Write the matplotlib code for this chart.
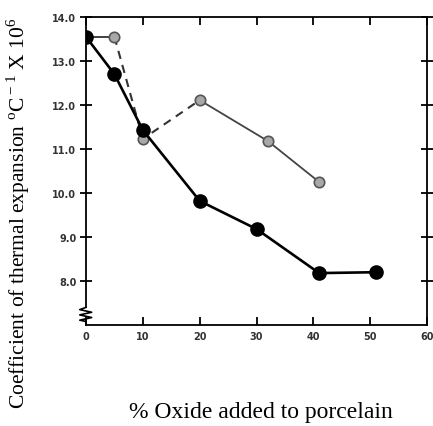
import matplotlib.pyplot as plt
import numpy as np

# black series (filled circles)
oxide_a = [0, 5, 10, 20, 30, 41, 51]
coef_a = [13.55, 12.7, 11.43, 9.82, 9.18, 8.18, 8.2]

# grey series: dashed part then thin solid part
oxide_b_dash = [0, 5, 10, 20]
coef_b_dash = [13.55, 13.55, 11.23, 12.11]
oxide_b_solid = [20, 32, 41]
coef_b_solid = [12.11, 11.18, 10.25]

x_ticks = [0, 10, 20, 30, 40, 50, 60]
y_ticks = [8.0, 9.0, 10.0, 11.0, 12.0, 13.0, 14.0]


def main():
    plt.rcParams['mathtext.fontset'] = 'custom'
    plt.rcParams['mathtext.rm'] = 'Liberation Serif'

    fig = plt.figure(figsize=(4.33, 4.27), dpi=100)
    ax = fig.add_axes([0.1986, 0.2365, 0.788, 0.7213])

    # grey line
    ax.plot(oxide_b_dash[:2], coef_b_dash[:2], color='#333333', lw=1.3)
    ax.plot(oxide_b_dash[1:], coef_b_dash[1:], color='#333333', lw=1.5,
            ls=(0, (4, 3)))
    ax.plot(oxide_b_solid, coef_b_solid, color='#444444', lw=1.3)
    ax.plot(oxide_b_dash[1:], coef_b_dash[1:], 'o', ms=7.5, mfc='#a8a8a8',
            mec='#555555', mew=1.2, ls='none')
    ax.plot(oxide_b_solid[1:], coef_b_solid[1:], 'o', ms=7.5, mfc='#a8a8a8',
            mec='#555555', mew=1.2, ls='none')

    # black line
    ax.plot(oxide_a, coef_a, color='black', lw=1.9, marker='o', ms=9.5,
            mfc='black', mec='black')

    ax.set_xlim(0, 60)
    ax.set_ylim(7.0, 14.0)
    ax.set_xticks(x_ticks)
    ax.set_yticks(y_ticks)
    ax.set_xticklabels([str(v) for v in x_ticks])
    ax.set_yticklabels(['%.1f' % v for v in y_ticks])
    ax.tick_params(direction='in', length=6, width=1.3, labelsize=7,
                   top=True, right=True, labelcolor='#333333', pad=4)
    ax.tick_params(axis='y', which='both', left=True, direction='inout',
                   length=8, pad=3)
    for lab in ax.get_xticklabels() + ax.get_yticklabels():
        lab.set_fontweight('bold')
    for s in ax.spines.values():
        s.set_linewidth(1.3)

    # axis break on the left spine
    ax.spines['left'].set_visible(False)
    ax.plot([0, 0], [7.0, 7.08], color='black', lw=1.3, clip_on=False)
    ax.plot([0, 0], [7.4, 14.0], color='black', lw=1.3, clip_on=False)
    zx = [0, -1.1, 1.0, -1.1, 1.0, -1.1, 0]
    zy = [7.4, 7.35, 7.29, 7.23, 7.17, 7.11, 7.08]
    ax.plot(zx, zy, color='black', lw=1.2, clip_on=False)

    fig.text(0.042, 0.5,
             'Coefficient of thermal expansion $^{\\rm o}$C$^{{\\rm -}1}$ X 10$^{6}$',
             rotation=90, ha='center', va='center', fontsize=15.5,
             family='Liberation Serif')
    fig.text(0.602, 0.035, '% Oxide added to porcelain', ha='center',
             va='center', fontsize=17, family='Liberation Serif')

    plt.savefig('out.png', dpi=100)
    plt.close()


if __name__ == "__main__":
    main()
